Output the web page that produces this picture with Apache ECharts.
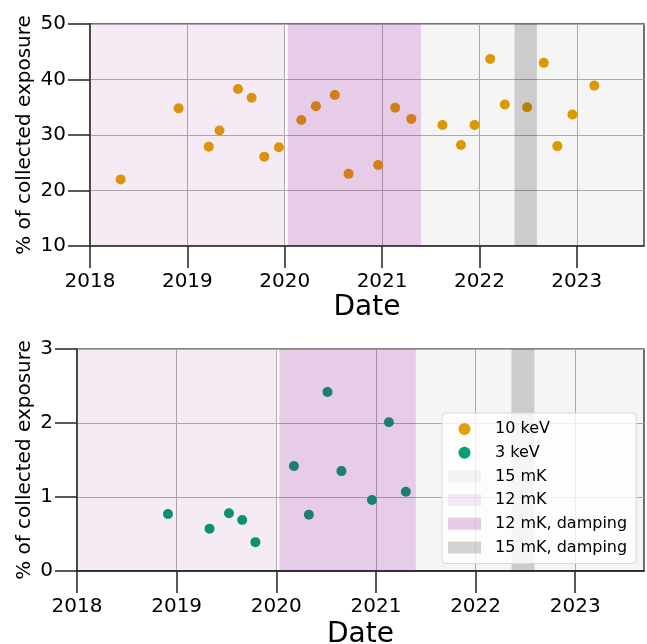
<!DOCTYPE html>
<html>
<head>
<meta charset="utf-8">
<script src="https://cdn.jsdelivr.net/npm/echarts@6/dist/echarts.min.js"></script>
<style>html,body{margin:0;padding:0;background:#fff}#c{width:647px;height:644px}</style>
</head>
<body>
<div id="c"></div>
<script>
// ---- data (decimal years) ----
const dates10 = [2018.315, 2018.91, 2019.22, 2019.33, 2019.52, 2019.66, 2019.79, 2019.94, 2020.17, 2020.32, 2020.515, 2020.656, 2020.96, 2021.135, 2021.30, 2021.62, 2021.81, 2021.95, 2022.11, 2022.26, 2022.49, 2022.66, 2022.80, 2022.955, 2023.18];
const values10 = [22.0, 34.8, 27.9, 30.8, 38.3, 36.7, 26.1, 27.8, 32.7, 35.2, 37.2, 23.0, 24.6, 34.9, 32.9, 31.8, 28.2, 31.8, 43.7, 35.5, 35.0, 43.0, 28.0, 33.7, 38.9];
const dates3 = [2018.913, 2019.33, 2019.525, 2019.658, 2019.79, 2020.177, 2020.327, 2020.514, 2020.654, 2020.96, 2021.13, 2021.30];
const values3 = [0.77, 0.57, 0.78, 0.69, 0.39, 1.42, 0.76, 2.42, 1.35, 0.96, 2.01, 1.07];
const yearTicks = [2018, 2019, 2020, 2021, 2022, 2023];
// band periods [start, end]
const band15mK = [[2021.40, 2024.5]];
const band12mK = [[2017.0, 2020.0]];
const band12mKDamp = [[2020.03, 2021.40]];
const band15mKDamp = [[2022.36, 2022.59]];
const xMin = 2018, xMax = 2023.69;

const FONT = 'DejaVu Sans';
const chart = echarts.init(document.getElementById('c'), null, {renderer: 'canvas'});

function renderBand(color) {
  return function (params, api) {
    const cs = params.coordSys;
    const s = api.coord([api.value(0), 0]);
    const e = api.coord([api.value(1), 0]);
    const x0 = Math.max(s[0], cs.x), x1 = Math.min(e[0], cs.x + cs.width);
    if (x1 <= x0) return null;
    return {type: 'rect', shape: {x: x0, y: cs.y, width: x1 - x0, height: cs.height}, style: {fill: color}};
  };
}
const bandDefs = [
  {name: '15 mK', data: band15mK, color: 'rgba(0,0,0,0.04)'},
  {name: '12 mK', data: band12mK, color: 'rgba(128,0,128,0.08)'},
  {name: '12 mK, damping', data: band12mKDamp, color: 'rgba(128,0,128,0.2)'},
  {name: '15 mK, damping', data: band15mKDamp, color: 'rgba(0,0,0,0.165)'}
];

function xAxis(gi, lineColor, gap) {
  return {
    type: 'value', gridIndex: gi, min: xMin, max: xMax, interval: 1,
    name: 'Date', nameLocation: 'middle', nameGap: gap,
    nameTextStyle: {fontFamily: FONT, fontSize: 28, color: '#000'},
    axisLine: {show: true, onZero: false, lineStyle: {color: lineColor, width: 1.5}},
    axisTick: {show: true, inside: false, length: 22, customValues: yearTicks, lineStyle: {color: '#222', width: 1.5}},
    axisLabel: {fontFamily: FONT, fontSize: 20, color: '#000', margin: 26, customValues: yearTicks, formatter: v => String(Math.round(v))},
    splitLine: {show: true, lineStyle: {color: '#b0b0b0', width: 1}}
  };
}
function yAxis(gi, min, max, interval, gap, lineColor) {
  return {
    type: 'value', gridIndex: gi, min: min, max: max, interval: interval,
    name: '% of collected exposure', nameLocation: 'middle', nameGap: gap, nameRotate: 90, nameMoveOverlap: false,
    nameTextStyle: {fontFamily: FONT, fontSize: 20, color: '#000'},
    axisLine: {show: true, onZero: false, lineStyle: {color: lineColor, width: 1.5}},
    axisTick: {show: true, inside: false, length: 22, lineStyle: {color: '#222', width: 1.5}},
    axisLabel: {fontFamily: FONT, fontSize: 20, color: '#000', margin: 24},
    splitLine: {show: true, lineStyle: {color: '#b0b0b0', width: 1}}
  };
}

const series = [
  {name: '10 keV', type: 'scatter', xAxisIndex: 0, yAxisIndex: 0, symbolSize: 10, z: 2,
   itemStyle: {color: '#e69f00', opacity: 1}, data: dates10.map((d, i) => [d, values10[i]])},
  {name: '3 keV', type: 'scatter', xAxisIndex: 1, yAxisIndex: 1, symbolSize: 10, z: 2,
   itemStyle: {color: '#009e73', opacity: 1}, data: dates3.map((d, i) => [d, values3[i]])}
];
[0, 1].forEach(gi => {
  bandDefs.forEach(b => {
    series.push({
      name: b.name, type: 'custom', xAxisIndex: gi, yAxisIndex: gi, z: 3, silent: true,
      itemStyle: {color: b.color}, encode: {x: [0, 1]},
      renderItem: renderBand(b.color), data: b.data
    });
  });
});

chart.setOption({
  animation: false,
  backgroundColor: '#fff',
  textStyle: {fontFamily: FONT},
  grid: [
    {left: 90, right: 3, top: 24, height: 222, show: true, borderColor: '#444', borderWidth: 1.5, backgroundColor: 'transparent', containLabel: false, outerBoundsMode: 'none'},
    {left: 77, right: 3, top: 349, height: 222, show: true, borderColor: '#111', borderWidth: 1.2, backgroundColor: 'transparent', containLabel: false, outerBoundsMode: 'none'}
  ],
  xAxis: [xAxis(0, '#333', 48), xAxis(1, '#111', 50)],
  yAxis: [yAxis(0, 10, 50, 10, 55, '#333'), yAxis(1, 0, 3, 1, 42, '#333')],
  legend: {
    orient: 'vertical', left: 442, top: 413,
    itemWidth: 33, itemHeight: 12, itemGap: 5.7,
    padding: [7, 9, 7, 6],
    backgroundColor: 'rgba(255,255,255,0.8)', borderColor: '#d8d8d8', borderWidth: 1, borderRadius: 4,
    textStyle: {fontFamily: FONT, fontSize: 16, color: '#000', lineHeight: 18, padding: [0, 0, 0, 9]},
    data: [
      {name: '10 keV', icon: 'circle'}, {name: '3 keV', icon: 'circle'},
      {name: '15 mK', icon: 'rect'}, {name: '12 mK', icon: 'rect'},
      {name: '12 mK, damping', icon: 'rect'}, {name: '15 mK, damping', icon: 'rect'}
    ],
    selectedMode: false
  },
  series: series
});
</script>
</body>
</html>
